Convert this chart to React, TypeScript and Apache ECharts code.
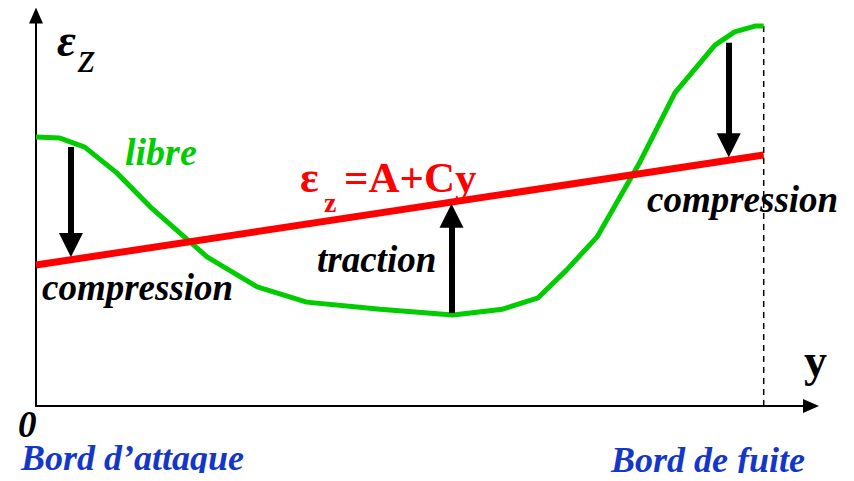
import React, { useEffect, useRef } from "react";
import * as echarts from "echarts";

// Free (libre) strain curve along the chord y
const libreX = [0, 0.33, 0.67, 1.11, 1.57, 2.35, 3.04, 3.72, 4.73, 5.73, 6.41, 6.9, 7.29, 7.71, 8.3, 8.78, 9.33, 9.6, 9.88, 10];
const libreY = [6.89, 6.86, 6.63, 5.97, 5.1, 3.82, 3.05, 2.66, 2.48, 2.33, 2.48, 2.77, 3.48, 4.33, 6.25, 8.02, 9.24, 9.58, 9.73, 9.73];

// Linear strain εz = A + Cy
const linX = [0, 10];
const linY = [3.61, 6.43];

// Arrows: x, start value, end value
const arrowX = [0.48, 5.71, 9.52];
const arrowFrom = [6.63, 2.38, 9.3];
const arrowTo = [4.12, 4.87, 6.68];

// Trailing-edge dashed marker
const trailX = 10;
const trailTop = 9.73;

const FAMILY = "Liberation Serif";

function txt(text: string, x: number, baseline: number, size: number, color: string, fstyle: string, fweight: string) {
  return {
    type: "text",
    x: x,
    y: baseline - 0.84 * size,
    style: {
      text: text,
      fontFamily: FAMILY,
      fontSize: size,
      fontStyle: fstyle,
      fontWeight: fweight,
      fill: color,
    },
  };
}

export default function App() {
  const ref = useRef<HTMLDivElement>(null);
  useEffect(() => {
    if (!ref.current) return;
    const chart = echarts.init(ref.current, undefined, { renderer: "svg" });
    const axisCommon = {
      type: "value",
      axisLabel: { show: false },
      axisTick: { show: false },
      splitLine: { show: false },
      axisLine: {
        show: true,
        onZero: false,
        symbol: ["none", "triangle"],
        symbolSize: [14, 16],
        lineStyle: { color: "#000", width: 2 },
      },
    };
    chart.setOption({
      animation: false,
      textStyle: { fontFamily: FAMILY },
      grid: { left: 36, right: 43, top: 15.5, bottom: 75 },
      xAxis: { ...axisCommon, min: 0, max: 10.65 },
      yAxis: { ...axisCommon, min: 0, max: 10 },
      series: [
        {
          type: "line",
          data: [
            [trailX, 0],
            [trailX, trailTop],
          ],
          showSymbol: false,
          lineStyle: { color: "#000", width: 1.5, type: [6, 5] },
          z: 1,
        },
        {
          type: "line",
          data: libreX.map((x, i) => [x, libreY[i]]),
          showSymbol: false,
          lineStyle: { color: "#00cc00", width: 5 },
          z: 3,
        },
        {
          type: "line",
          data: linX.map((x, i) => [x, linY[i]]),
          showSymbol: false,
          lineStyle: { color: "#ff0000", width: 7 },
          z: 4,
        },
        {
          type: "lines",
          coordinateSystem: "cartesian2d",
          symbol: ["none", "triangle"],
          symbolSize: [24, 24],
          lineStyle: { color: "#000", width: 6, opacity: 1, curveness: 0 },
          itemStyle: { color: "#000" },
          data: arrowX.map((x, i) => ({ coords: [[x, arrowFrom[i]], [x, arrowTo[i]]] })),
          z: 5,
        },
      ],
      graphic: [
        txt("Bord d\u2019attaque", 21, 470, 36, "#1437c8", "italic", "bold"),
        txt("Bord de fuite", 611, 472, 36, "#1437c8", "italic", "bold"),
        txt("libre", 125, 165, 38, "#00cc00", "italic", "bold"),
        txt("compression", 42, 300, 37, "#000", "italic", "bold"),
        txt("traction", 317, 272, 37, "#000", "italic", "bold"),
        txt("compression", 647, 212, 37, "#000", "italic", "bold"),
        txt("y", 804, 376, 46, "#000", "normal", "bold"),
        txt("0", 18, 437, 37, "#000", "italic", "bold"),
        txt("ε", 57, 56, 46, "#000", "italic", "bold"),
        txt("z", 78, 72, 44, "#000", "italic", "normal"),
        txt("ε", 300, 192, 44, "#ff0000", "normal", "bold"),
        txt("z", 324, 212, 28, "#ff0000", "normal", "bold"),
        txt("=A+Cy", 344, 192, 43, "#ff0000", "normal", "bold"),
      ],
    });
    return () => chart.dispose();
  }, []);
  return <div ref={ref} style={{ width: 854, height: 481, margin: -8 }} />;
}
